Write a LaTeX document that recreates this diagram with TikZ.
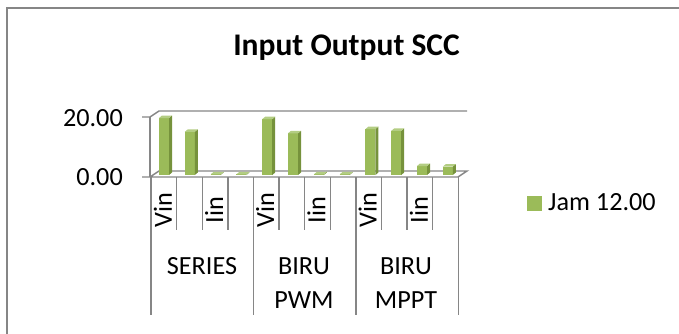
\documentclass[tikz,border=0pt]{standalone}
\usepackage{fontspec}
\setmainfont{Carlito}
\definecolor{axisgray}{HTML}{868686}
\definecolor{barfront}{HTML}{9BBB59}
\definecolor{barside}{HTML}{76923C}
\definecolor{bartop}{HTML}{B3CD83}
\begin{document}
\begin{tikzpicture}[x=1pt,y=-1pt,
  frame/.style={draw=axisgray,line width=2pt},
  axisline/.style={draw=axisgray,line width=1.4pt},
  lbl/.style={inner sep=0pt,font=\fontsize{26.2}{34}\selectfont},
  ttl/.style={inner sep=0pt,font=\fontsize{31.5}{36}\selectfont\bfseries}]
\useasboundingbox (0,0) rectangle (679,334);
\draw[frame] (7,334) -- (7,8) -- (679,8);
% title
\node[ttl,anchor=base] (title) at (346.5,56) {Input Output SCC};
% value axis labels
\node[lbl,anchor=base east] (y20) at (123,126.5) {20.00};
\node[lbl,anchor=base east] (y0) at (123,185) {0.00};
% walls and floor
\draw[axisline] (150,117) -- (150,177);
\draw[axisline] (142,117) -- (150,117) -- (159,111) -- (467,111);
\draw[axisline] (142,177) -- (458,177) -- (467,171) -- (159,171) -- (150,177);
% category dividers
\foreach \i in {0,...,12}{
  \pgfmathsetmacro\xd{151+25.6*\i}
  \pgfmathtruncatemacro\m{mod(\i,4)}
  \ifnum\m=0
    \draw[axisline] (\xd,177) -- (\xd,315);
  \else
    \draw[axisline] (\xd,177) -- (\xd,230);
  \fi
}
% bars
\foreach \v [count=\i from 0] in {19.0,14.4,0.2,0.2,18.6,13.9,0.2,0.2,15.3,14.7,3.0,2.8}{
  \pgfmathsetmacro\xl{159+25.8*\i}
  \pgfmathsetmacro\yt{175-3*\v}
  \fill[barfront] (\xl,175) rectangle (\xl+10,\yt);
  \fill[barside] (\xl+10,175) -- (\xl+13,172.5) -- (\xl+13,\yt-2.5) -- (\xl+10,\yt) -- cycle;
  \fill[bartop] (\xl,\yt) -- (\xl+3,\yt-2.5) -- (\xl+13,\yt-2.5) -- (\xl+10,\yt) -- cycle;
}
% rotated series labels
\foreach \k/\t in {0/Vin,2/Iin,4/Vin,6/Iin,8/Vin,10/Iin}{
  \pgfmathsetmacro\xc{151+25.6*\k+12.8-1}
  \node[lbl,rotate=90,anchor=center] (s\k) at (\xc,210) {\t};
}
% category labels
\node[lbl,anchor=north,align=center] (cat1) at (202,257.5) {SERIES};
\node[lbl,anchor=north,align=center] (cat2) at (304,257.5) {BIRU\\PWM};
\node[lbl,anchor=north,align=center] (cat3) at (406,257.5) {BIRU\\MPPT};
% legend
\fill[barfront] (527,196) rectangle (542,211);
\node[lbl,anchor=base west] (leg) at (548,210) {Jam 12.00};
\end{tikzpicture}
\end{document}
